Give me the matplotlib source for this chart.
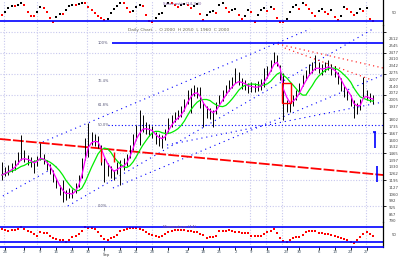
import numpy as np
import pandas as pd
import matplotlib
matplotlib.use('Agg')
import matplotlib.pyplot as plt
from matplotlib.patches import Rectangle
from matplotlib.ticker import FixedLocator, NullFormatter, FormatStrFormatter

# ---------------------------------------------------------------------------- #
# Data

close = [1250, 1280, 1300, 1320, 1350, 1400, 1450, 1420, 1400, 1380,
         1350, 1400, 1450, 1400, 1350, 1300, 1220, 1150, 1080, 1050,
         1030, 1070, 1050, 1120, 1200, 1350, 1550, 1650, 1620, 1600,
         1580, 1450, 1350, 1300, 1280, 1250, 1320, 1350, 1350, 1400,
         1500, 1600, 1700, 1720, 1750, 1720, 1700, 1680, 1620, 1600,
         1600, 1650, 1750, 1800, 1830, 1850, 1880, 1950, 2050, 2080,
         2100, 2080, 2000, 1900, 1880, 1870, 1850, 1920, 2000, 2050,
         2100, 2140, 2170, 2200, 2200, 2170, 2150, 2120, 2130, 2120,
         2130, 2150, 2220, 2280, 2350, 2420, 2400, 2250, 1900, 1950,
         1920, 2000, 2050, 2120, 2200, 2250, 2300, 2320, 2350, 2320,
         2300, 2320, 2350, 2300, 2280, 2220, 2150, 2080, 2050, 2000,
         1880, 1920, 1950, 2100, 2050, 2000, 2000]

high = [1380, 1330, 1350, 1370, 1400, 1480, 1650, 1500, 1450, 1430,
        1400, 1440, 1570, 1460, 1400, 1360, 1300, 1220, 1150, 1200,
        1100, 1120, 1110, 1170, 1250, 1420, 1620, 1770, 1680, 1660,
        1640, 1550, 1420, 1370, 1340, 1300, 1380, 1400, 1420, 1460,
        1550, 1660, 1750, 1900, 1850, 1780, 1760, 1740, 1680, 1660,
        1650, 1710, 1820, 1850, 1880, 1900, 1940, 2010, 2100, 2120,
        2150, 2130, 2130, 1980, 1940, 1920, 1900, 1980, 2050, 2100,
        2150, 2200, 2230, 2320, 2280, 2220, 2200, 2170, 2180, 2170,
        2190, 2210, 2320, 2340, 2400, 2480, 2450, 2350, 2270, 2000,
        1970, 2050, 2100, 2170, 2250, 2300, 2360, 2380, 2450, 2380,
        2360, 2380, 2400, 2360, 2340, 2280, 2220, 2140, 2100, 2050,
        2000, 1970, 2010, 2230, 2100, 2070, 2050]

low = [1200, 1240, 1250, 1280, 1300, 1360, 1400, 1380, 1350, 1330,
       1270, 1340, 1400, 1360, 1300, 1260, 1180, 1120, 1050, 980,
       1000, 1020, 1020, 1070, 1130, 1220, 1400, 1430, 1550, 1540,
       1520, 1350, 1180, 1240, 1220, 1200, 1260, 1150, 1300, 1340,
       1420, 1500, 1600, 1550, 1680, 1660, 1640, 1620, 1560, 1540,
       1520, 1600, 1680, 1730, 1780, 1810, 1830, 1890, 1960, 1870,
       2040, 2020, 1920, 1730, 1820, 1810, 1730, 1860, 1940, 1990,
       2050, 2090, 2120, 2170, 2150, 2110, 2100, 2070, 2080, 2080,
       2090, 2100, 2130, 2220, 2290, 2370, 2340, 2200, 1800, 1880,
       1880, 1940, 2000, 2060, 2140, 2200, 2250, 2270, 2300, 2270,
       2250, 2280, 2300, 2250, 2230, 2160, 2090, 2030, 2000, 1940,
       1820, 1860, 1900, 2030, 2000, 1980, 1960]

# top oscillator (0-100)
stoch = [40, 52, 68, 76, 76, 80, 88, 80, 52, 36,
         36, 52, 72, 68, 52, 28, 12, 32, 44, 44,
         60, 76, 80, 80, 84, 88, 88, 72, 60, 48,
         36, 28, 20, 24, 48, 64, 76, 88, 88, 68,
         52, 56, 72, 80, 76, 40, 16, 12, 28, 44,
         48, 76, 88, 88, 80, 72, 80, 84, 80, 68,
         76, 84, 44, 20, 40, 52, 56, 48, 80, 88,
         68, 52, 60, 64, 40, 24, 36, 60, 52, 12,
         40, 60, 68, 56, 72, 64, 28, 12, 12, 24,
         52, 72, 80, 64, 88, 80, 64, 48, 36, 56,
         64, 52, 44, 60, 32, 20, 36, 72, 64, 52,
         40, 48, 64, 56, 68, 24, 16]

# bottom oscillator (0-100)
mom = [72, 68, 64, 68, 68, 72, 80, 72, 64, 60,
       52, 44, 60, 56, 56, 44, 36, 32, 28, 28,
       20, 28, 40, 44, 52, 64, 80, 76, 76, 72,
       60, 44, 32, 28, 36, 40, 48, 64, 68, 72,
       76, 76, 76, 72, 68, 60, 52, 48, 44, 40,
       44, 52, 60, 64, 68, 68, 68, 68, 64, 64,
       60, 60, 52, 48, 36, 40, 40, 44, 64, 64,
       64, 68, 64, 60, 60, 56, 56, 56, 44, 44,
       44, 44, 52, 60, 64, 72, 56, 36, 24, 20,
       28, 36, 40, 40, 48, 60, 64, 64, 64, 56,
       56, 52, 52, 48, 44, 40, 36, 32, 28, 20,
       16, 28, 40, 52, 60, 52, 44]

tick_idx = [1, 7, 12, 17, 22, 27, 32, 37, 42, 47, 52, 58, 63, 68, 73, 78,
            83, 89, 93, 99, 104, 109, 114]
tick_labels = ['26', '2', '9', '16', '23', '30', '7', '14', '21', '28', '4', '11',
               '18', '25', '2', '9', '16', '23', '30', '6', '13', '20', '27']

# trend lines as (bar index, price) pairs
upper_channel = [(12.8, 1580), (96.3, 2710)]
left_channel = [(0.3, 1040), (17.2, 1340)]
long_channel = [(20.6, 940), (115.9, 2710)]
mid_channel = [(34.7, 1120), (119.1, 2250)]
low_channel = [(51.6, 1550), (119.1, 1980)]
red_trend = [(-0.6, 1610), (119.1, 1250)]
red_fan1 = [(86.2, 2560), (119.1, 2320)]
red_fan2 = [(88.4, 2520), (115.6, 2200)]

fib_names = ['100%', '76.4%', '61.8%', '50.0%', '0.0%']
fib_prices = [2570, 2185, 1947, 1755, 940]

# ---------------------------------------------------------------------------- #
# Figure

W, H = 400, 257
fig = plt.figure(figsize=(W / 100, H / 100), dpi=100)

def px_axes(top, bottom):
    return fig.add_axes([0, 1 - bottom / H, 383 / W, (bottom - top) / H])

ax_top = px_axes(0, 25)
ax = px_axes(25, 222)
ax_bot = px_axes(222, 246.5)

grid_c = '#c8c8ee'
vgrid = [0.6, 10.9, 26.6, 41.9, 46.9, 77.5, 82.5, 87.5, 113.75]

for a in (ax_top, ax, ax_bot):
    a.set_xlim(-0.6, 119.1)
    a.patch.set_alpha(0)
    for s in ('top', 'left', 'bottom'):
        a.spines[s].set_visible(False)
    a.spines['right'].set_linewidth(0.9)
    a.yaxis.tick_right()
    a.set_xticks([])
    for v in vgrid:
        a.axvline(v, color=grid_c, ls=(0, (1, 1.5)), lw=0.8, zorder=0)

x = np.arange(len(close))
s = pd.Series(close, dtype=float)
fast = s.ewm(span=3, adjust=False).mean()
slow = s.rolling(8, min_periods=1).mean()

# main panel
ax.set_ylim(780, 2750)
grid_prices = [2680, 2470, 2260, 2050, 1870, 1670, 1470, 1200, 940]
for g in grid_prices:
    ax.axhline(g, color=grid_c, ls=(0, (1, 1.5)), lw=0.8, zorder=0)
ax.yaxis.set_major_locator(FixedLocator(grid_prices))
ax.yaxis.set_major_formatter(NullFormatter())
ax.yaxis.set_minor_locator(FixedLocator(np.arange(790, 2700, 67.5)))
ax.yaxis.set_minor_formatter(FormatStrFormatter('%d'))
ax.tick_params(axis='y', which='major', length=2.5, width=0.6)
ax.tick_params(axis='y', which='minor', length=0, labelsize=2.8, pad=4,
               labelcolor='#444444')

ax.vlines(x, low, high, color='black', lw=0.7, zorder=3)
ax.plot(x, slow, color='#00ee00', lw=0.9, zorder=4)
ax.plot(x, fast, color='#ff00ff', lw=0.9, zorder=5)

def seg(pts, **kw):
    (x0, y0), (x1, y1) = pts
    ax.plot([x0, x1], [y0, y1], **kw)

blue_dot = dict(color='#0000ff', lw=0.8, ls=(0, (1, 3.5)), zorder=2)
for line in (upper_channel, left_channel, long_channel, mid_channel, low_channel):
    seg(line, **blue_dot)
seg(red_trend, color='#ff0000', lw=1.3, ls=(0, (6, 1.2)), zorder=2)
seg(red_fan1, color='#ff0000', lw=0.8, ls=(0, (1, 3)), zorder=2)
seg(red_fan2, color='#ff0000', lw=0.8, ls=(0, (1, 3)), zorder=2)

ax.hlines(fib_prices[0], 34.4, 119.1, color='#0000ff', lw=1.2, zorder=2)
ax.hlines(fib_prices[3], 33.0, 119.1, color='#0000ff', lw=0.8,
          ls=(0, (1, 2)), zorder=2)
for name, p in zip(fib_names, fib_prices):
    ax.text(30.0, p, name, fontsize=2.6, color='#555577', va='center')

ax.add_patch(Rectangle((87.5, 1970), 2.8, 200, fill=False, ec='#ff0000', lw=1,
                       zorder=6))
ax.vlines([30.9, 35.0], [1380, 1380], [1520, 1480], color='#ff0000', lw=1, zorder=6)
ax.vlines(116.6, 1520, 1680, color='#0000ff', lw=1.2, zorder=6)
ax.hlines(1680, 115.9, 116.8, color='#0000ff', lw=1.2, zorder=6)
ax.vlines(117.2, 1180, 1340, color='#0000ff', lw=1.2, zorder=6)

fig.text(128 / W, 1 - 30 / H, 'Daily Chart  -  O 2000  H 2050  L 1960  C 2000',
         fontsize=3.2, color='#666655', va='center')

# top oscillator
ax_top.set_ylim(0, 100)
ax_top.axhline(16, color='#0000ff', lw=1.2)
ax_top.set_yticks([50])
ax_top.set_yticklabels(['50'])
ax_top.tick_params(axis='y', length=0, labelsize=2.8, pad=6, labelcolor='#444444')
st = np.array(stoch)
up = np.r_[False, np.diff(st) > 0]
ax_top.scatter(x[up], st[up], s=0.8, c='black', marker='s', lw=0, clip_on=False)
ax_top.scatter(x[~up], st[~up], s=0.8, c='#ff0000', marker='s', lw=0, clip_on=False)
fig.text(163 / W, 1 - 4 / H, 'Stochastic (14,3,3)', fontsize=3, color='#775599',
         va='center')

# bottom oscillator
ax_bot.set_ylim(2, 100)
ax_bot.axhline(80, color='#0000ff', lw=1.2)
ax_bot.axhline(20, color='#0000ff', lw=1.2)
ax_bot.spines['bottom'].set_visible(True)
ax_bot.spines['bottom'].set_color('#0000ff')
ax_bot.spines['bottom'].set_linewidth(1.2)
ax_bot.set_yticks([50])
ax_bot.set_yticklabels(['50'])
ax_bot.tick_params(axis='y', length=0, labelsize=2.8, pad=6, labelcolor='#444444')
ax_bot.scatter(x, mom, s=0.8, c='#ff0000', marker='s', lw=0, clip_on=False)
ax_bot.set_xticks(tick_idx)
ax_bot.set_xticklabels(tick_labels)
ax_bot.tick_params(axis='x', length=2, width=0.6, labelsize=2.8, pad=0.5,
                   labelcolor='#445566')
fig.text(163 / W, 1 - 227 / H, 'Momentum (14)', fontsize=3, color='#775599',
         va='center')
fig.text(103 / W, 1 - 255 / H, 'Sep', fontsize=2.8, color='#444444', va='center')

fig.savefig('out.png', dpi=100, facecolor='white')
